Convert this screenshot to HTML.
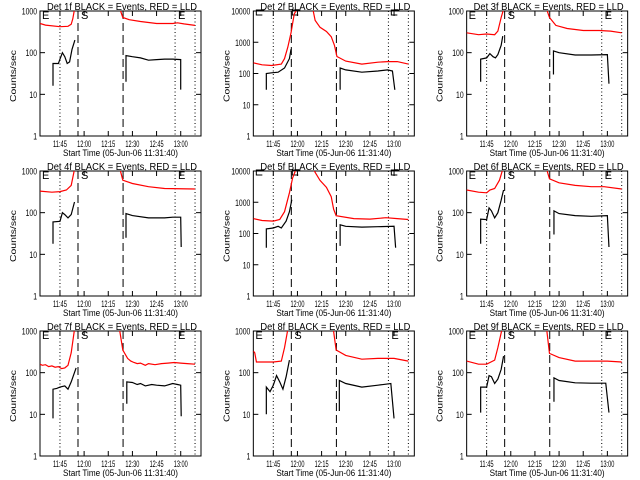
<!DOCTYPE html>
<html><head><meta charset="utf-8"><style>
body{margin:0;background:#fff}
svg{display:block}
text{font-family:"Liberation Sans",sans-serif;font-size:9px;fill:#000}
</style></head><body>
<svg id="c" width="640" height="480"></svg>
<script>
const tickTimes=[45,60,75,90,105,120];
const tickLabels=["11:45","12:00","12:15","12:30","12:45","13:00"];
const detNames=["1f","2f","3f","4f","5f","6f","7f","8f","9f"];
const decades=[3,4,3,3,4,3,3,3,3];
const dottedTimes=[45,116.5,128.9];
const dashedTimes=[56.2,84.2];
const black1=[[[40.7,16],[40.7,55],[44,55],[45,70],[46.5,100],[48,80],[49.5,55],[51,60],[52.5,120],[54.3,200]],[[86,20],[86,85],[90,80],[95,75],[100,66],[105,68],[110,70],[115,70],[120,68],[120,13]]];
const red1=[[[32.6,500],[36,460],[45,420],[50,430],[52,480],[53,650],[54,1100]],[[82.3,1100],[84,700],[88,620],[95,560],[105,500],[115,500],[118,520],[122,490],[128.9,450]]];
const black2=[[[40.7,30],[40.7,100],[44,105],[48,110],[52,150],[55,300],[56,600]],[[86.5,30],[86.5,150],[90,130],[100,110],[110,120],[116,130],[119,120],[120.5,30]]];
const red2=[[[32.6,220],[38,190],[44,180],[50,200],[52,300],[54,700],[56,2000],[58,8000],[60,12000]],[[69.5,12000],[71,5000],[74,3000],[78,2200],[81,1500],[83,800],[84.5,350],[90,250],[100,200],[110,230],[116,240],[122,240],[128.9,200]]];
const black3=[[[41.3,20],[41.3,70],[45,75],[47,95],[49,80],[50.5,75],[52,90],[54,150],[55,250]],[[86.5,30],[86.5,110],[90,100],[100,88],[110,88],[120,90],[121,18]]];
const red3=[[[32.6,300],[40,270],[45,280],[50,270],[52,330],[54,700],[55.5,1100]],[[82.3,1100],[84,700],[88,450],[95,380],[105,340],[115,340],[122,330],[128.9,300]]];
const black4=[[[40.7,18],[40.7,60],[45,62],[46.5,100],[48,90],[50,75],[52,90],[54,180]],[[86,25],[86,95],[90,85],[100,75],[110,75],[115,78],[120,78],[120.3,15]]];
const red4=[[[32.6,330],[40,310],[45,320],[49,350],[52,450],[54,1100]],[[82.3,1100],[84,600],[90,500],[100,420],[110,380],[128.9,370]]];
const black5=[[[40.7,35],[40.7,140],[45,150],[48,170],[50,150],[53,250],[55,500],[56.5,1200]],[[86.5,40],[86.5,190],[90,170],[100,160],[110,165],[120,170],[121,35]]];
const red5=[[[32.6,300],[38,260],[45,250],[49,280],[52,500],[55,2000],[57,6000],[59,11000]],[[70,11000],[74,5000],[78,3000],[81,1500],[82.5,600],[84,370],[95,300],[105,290],[115,320],[122,300],[128.9,280]]];
const black6=[[[41.3,18],[41.3,70],[45,68],[46.5,130],[48,110],[50,75],[52,100],[54,200],[55.5,350]],[[86.8,30],[86.8,110],[90,95],[100,85],[110,82],[120,85],[121,15]]];
const red6=[[[32.6,350],[40,310],[45,300],[47,350],[50,380],[53,600],[55,1100]],[[82.3,1100],[84,650],[90,520],[100,450],[110,420],[118,420],[128.9,370]]];
const black7=[[[40.7,8],[40.7,40],[43,42],[45,45],[48,48],[50,40],[52,60],[55,130]],[[86.5,18],[86.5,60],[90,58],[93,52],[95,55],[98,48],[102,52],[105,50],[110,48],[115,55],[118,52],[120,50],[120.3,9]]];
const red7=[[[32.6,160],[34,150],[36,155],[38,140],[40,145],[42,135],[44,140],[46,125],[48,130],[50,150],[52,300],[54,1100]],[[82,1100],[84,350],[87,220],[89,190],[91,175],[93,165],[95,170],[98,150],[100,165],[104,155],[108,165],[112,170],[116,175],[120,170],[124,165],[128.9,160]]];
const black8=[[[40.7,10],[40.7,45],[43,35],[45,50],[47,85],[49,60],[51,40],[53,80],[55,200]],[[86,12],[86,65],[90,55],[100,45],[110,50],[118,55],[120,8]]];
const red8=[[[32.6,330],[33.5,300],[34.5,180],[40,180],[45,180],[50,190],[52,400],[54,1100]],[[82.3,1100],[84,350],[90,260],[100,210],[110,220],[120,220],[128.9,190]]];
const black9=[[[41.3,11],[41.3,45],[45,45],[46.5,85],[48,80],[50,55],[52,70],[54,120],[55.5,250]],[[86.8,20],[86.8,75],[90,65],[100,57],[110,56],[119,56],[121,11]]];
const red9=[[[32.6,190],[40,160],[45,160],[50,200],[52,400],[54.5,1100]],[[82.3,1100],[84,290],[90,230],[100,190],[110,190],[120,190],[128.9,180]]];
const blacks=[black1,black2,black3,black4,black5,black6,black7,black8,black9];
const reds=[red1,red2,red3,red4,red5,red6,red7,red8,red9];

const NS="http://www.w3.org/2000/svg";
const svg=document.getElementById('c');
function mk(tag,attrs,parent){const e=document.createElementNS(NS,tag);for(const k in attrs)e.setAttribute(k,attrs[k]);parent.appendChild(e);return e;}
const X0=40,X1=201,Y0=11,Y1=136,T0=32.6,K=1.61;
function xs(t){return X0+(t-T0)*K;}
for(let i=0;i<9;i++){
  const c=i%3,r=Math.floor(i/3);
  const g=mk('g',{transform:`translate(${(c*213.33).toFixed(2)},${r*160})`},svg);
  
  
  const D=decades[i];
  const ys=v=>Y1-(Math.log10(Math.max(v,1e-3)))/D*(Y1-Y0);
  const clipId='clip'+i;
  const cp=mk('clipPath',{id:clipId},g);mk('rect',{x:X0,y:Y0,width:X1-X0,height:Y1-Y0},cp);
  const t=mk('text',{x:47,y:10,textLength:150,lengthAdjust:'spacingAndGlyphs',style:'font-size:10px'},g);
  t.textContent='Det '+detNames[i]+' BLACK = Events, RED = LLD';
  
  
  const box=mk('rect',{x:X0,y:Y0,width:X1-X0,height:Y1-Y0,fill:'none',stroke:'#000','stroke-width':1},g);
  
  
  for(let d=0;d<=D;d++){
    const y=ys(Math.pow(10,d));
    mk('line',{x1:X0,x2:X0+5,y1:y,y2:y,stroke:'#000'},g);
    mk('line',{x1:X1,x2:X1-5,y1:y,y2:y,stroke:'#000'},g);
    const s=String(Math.pow(10,d));
    const lb=mk('text',{x:37-s.length*3.8,y:y+3.5,textLength:s.length*3.8,lengthAdjust:'spacingAndGlyphs'},g);
    lb.textContent=s;
    
    
  }
  tickTimes.forEach((tt,j)=>{const x=xs(tt);
    mk('line',{x1:x,x2:x,y1:Y1,y2:Y1-5,stroke:'#000'},g);
    mk('line',{x1:x,x2:x,y1:Y0,y2:Y0+5,stroke:'#000'},g);
    const lb=mk('text',{x:x-7,y:147,textLength:14,lengthAdjust:'spacingAndGlyphs'},g);
    lb.textContent=tickLabels[j];
    
    
  });
  const xl=mk('text',{x:63,y:156,textLength:115,lengthAdjust:'spacingAndGlyphs'},g);
  xl.textContent='Start Time (05-Jun-06 11:31:40)';
  
  
  const yl=mk('text',{x:-26,y:0,transform:'translate(16,76) rotate(-90)',textLength:52,lengthAdjust:'spacingAndGlyphs',style:'font-size:8px'},g);
  yl.textContent='Counts/sec';
  
  
  dottedTimes.forEach(tt=>{const l=mk('line',{x1:xs(tt),x2:xs(tt),y1:Y0,y2:Y1,stroke:'#000','stroke-dasharray':'1,2.5'},g);
    
    });
  dashedTimes.forEach(tt=>{const l=mk('line',{x1:xs(tt),x2:xs(tt),y1:Y0,y2:Y1,stroke:'#000','stroke-dasharray':'8,4'},g);
    
    });
  if(D===3){
    [[42,'E'],[81,'S'],[178,'E']].forEach(([x,s])=>{const e=mk('text',{x:x,y:19,style:'font-size:11px'},g);
      e.textContent=s;
      
      });
  } else {
    [[43,15],[79,15],[178,15]].forEach(([x,y])=>{mk('polyline',{points:`${x+6},${y} ${x},${y} ${x},${y-5} ${x+8},${y-5}`,fill:'none',stroke:'#000'},g);});
  }
  const pg=mk('g',{'clip-path':`url(#${clipId})`},g);
  reds[i].forEach(seg=>{const p=mk('polyline',{points:seg.map(q=>xs(q[0]).toFixed(1)+','+ys(q[1]).toFixed(1)).join(' '),fill:'none',stroke:'#f00','stroke-width':1.2},pg);
    
    });
  blacks[i].forEach(seg=>{const p=mk('polyline',{points:seg.map(q=>xs(q[0]).toFixed(1)+','+ys(q[1]).toFixed(1)).join(' '),fill:'none',stroke:'#000','stroke-width':1.2},pg);
    
    });
}
</script>
</body></html>
